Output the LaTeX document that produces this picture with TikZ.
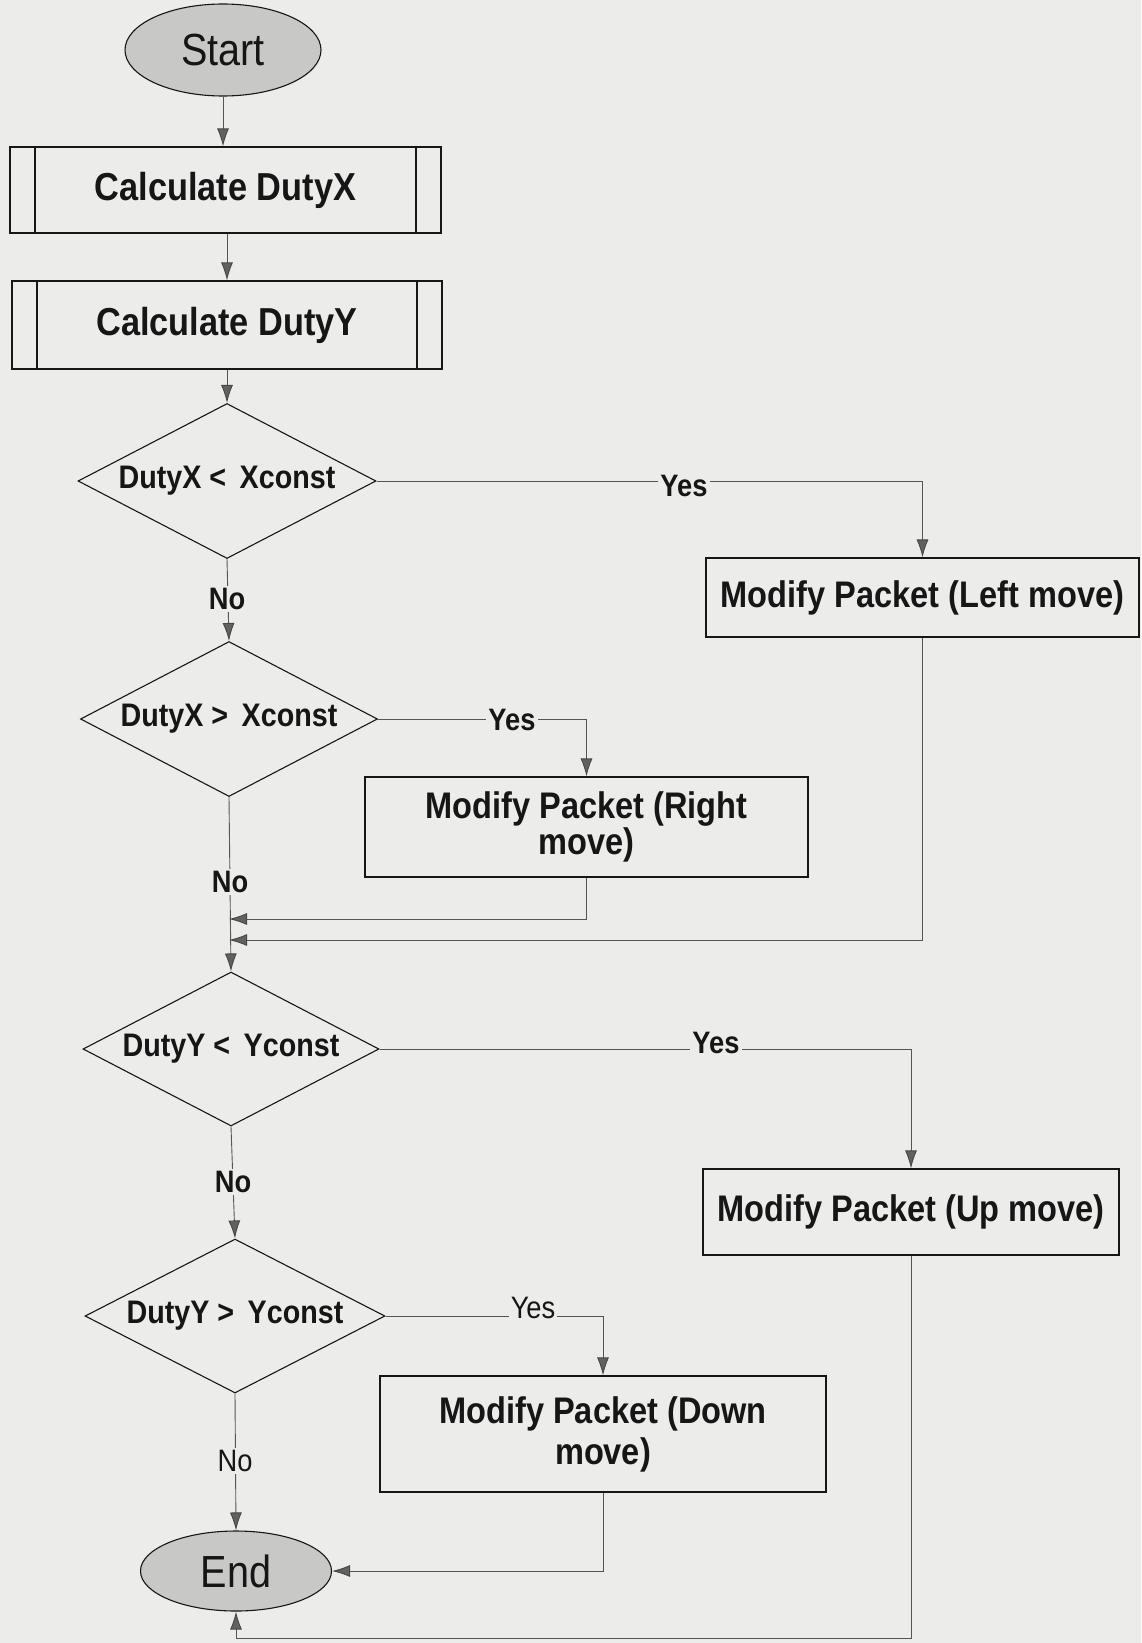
\documentclass[tikz,border=0pt]{standalone}
\usepackage{fontspec}
\usetikzlibrary{shapes.geometric,arrows.meta}
\newfontfamily\chartfont[FakeStretch=0.88]{Liberation Sans}
\definecolor{paper}{RGB}{236,236,234}
\definecolor{termfill}{RGB}{200,200,198}
\definecolor{ink}{RGB}{22,22,22}
\definecolor{wire}{RGB}{85,85,85}
\begin{document}
\begin{tikzpicture}[x=1pt,y=-1pt,
  font=\chartfont, text=ink,
  terminal/.style={ellipse, draw=ink, line width=1.1pt, fill=termfill,
    inner sep=0pt, font=\chartfont\fontsize{45}{50}\selectfont},
  subproc/.style={rectangle, draw=ink, line width=1.2pt, fill=paper, inner sep=0pt,
    font=\chartfont\bfseries\fontsize{39}{44}\selectfont,
    path picture={
      \draw[ink, line width=1.2pt]
        ([xshift=25pt]path picture bounding box.north west) --
        ([xshift=25pt]path picture bounding box.south west)
        ([xshift=-25pt]path picture bounding box.north east) --
        ([xshift=-25pt]path picture bounding box.south east);}},
  decision/.style={diamond, aspect=1.9, draw=ink, line width=1.1pt, fill=paper,
    inner sep=0pt, font=\chartfont\bfseries\fontsize{32.6}{36}\selectfont},
  action/.style={rectangle, draw=ink, line width=1.2pt, fill=paper, inner sep=0pt,
    align=center, font=\chartfont\bfseries\fontsize{37}{37}\selectfont},
  wirelabel/.style={fill=paper, inner sep=2pt, font=\chartfont\bfseries\fontsize{31}{34}\selectfont},
  plainlabel/.style={fill=paper, inner sep=2pt, font=\chartfont\fontsize{31}{34}\selectfont},
  link/.style={draw=wire, line width=0.9pt},
  arr/.style={link, -{Latex[length=18pt,width=12pt,fill=black!62,color=black!72]}}
]
% page
\fill[paper] (0,0) rectangle (1141,1643);
\useasboundingbox (0,0) rectangle (1141,1643);

% main column
\node[terminal, minimum width=196pt, minimum height=92pt] (start) at (223,50) {Start};
\node[subproc, minimum width=431pt, minimum height=86pt] (calcX) at (225.5,190) {Calculate DutyX};
\node[subproc, minimum width=430pt, minimum height=88pt] (calcY) at (227,325) {Calculate DutyY};
\node[decision, minimum width=298pt, minimum height=155pt] (d1) at (227,481) {DutyX <\,\ Xconst};
\node[decision, minimum width=297pt, minimum height=155pt] (d2) at (229,719) {DutyX >\,\ Xconst};
\node[decision, minimum width=296pt, minimum height=154pt] (d3) at (231,1049) {DutyY <\,\ Yconst};
\node[decision, minimum width=300pt, minimum height=154pt] (d4) at (235,1316) {DutyY >\,\ Yconst};
\node[terminal, minimum width=191pt, minimum height=80pt] (end) at (236,1571) {End};

% packet modifications
\node[action, minimum width=433pt, minimum height=79pt] (left) at (922.5,597.5) {Modify Packet (Left move)};
\node[action, minimum width=443pt, minimum height=100pt] (right) at (586.5,827) {Modify Packet (Right\\[-1pt]move)};
\node[action, minimum width=416pt, minimum height=86pt] (up) at (911,1212) {Modify Packet (Up move)};
\node[action, minimum width=446pt, minimum height=116pt, font=\chartfont\bfseries\fontsize{37}{41}\selectfont] (down) at (603,1434) {Modify Packet (Down\\move)};

% junction points
\coordinate (j1) at (229,919);
\coordinate (j2) at (229,940);
\coordinate (jb) at (236,1638);

% straight flow
\draw[arr] (start.south) -- (start.south |- calcX.north);
\draw[arr] (calcX.south -| calcY.north) -- (calcY.north);
\draw[arr] (calcY.south -| d1.north) -- (d1.north);

% decision 1
\draw[arr] (d1.east) -- (left.north |- d1.east) -- (left.north);
\node[wirelabel] (y1) at (684,486) {Yes};
\draw[arr] (d1.south) -- (d2.north);
\node[wirelabel] (n1) at (227,599) {No};

% decision 2
\draw[arr] (d2.east) -- (right.north |- d2.east) -- (right.north);
\node[wirelabel] (y2) at (512,720) {Yes};
\draw[arr] (d2.south) -- (d3.north);
\node[wirelabel] (n2) at (230,882) {No};
\draw[arr] (right.south) |- (j1);
\draw[arr] (left.south) |- (j2);

% decision 3
\draw[arr] (d3.east) -- (up.north |- d3.east) -- (up.north);
\node[wirelabel] (y3) at (716,1043) {Yes};
\draw[arr] (d3.south) -- (d4.north);
\node[wirelabel] (n3) at (233,1182) {No};

% decision 4
\draw[arr] (d4.east) -- (down.north |- d4.east) -- (down.north);
\node[plainlabel] (y4) at (533,1308) {Yes};
\draw[arr] (d4.south) -- (end.north);
\node[plainlabel] (n4) at (235,1461) {No};

% returns into End
\draw[arr] (down.south) |- (end.east);
\draw[arr] (up.south) |- (jb) -- (end.south);
\end{tikzpicture}
\end{document}
